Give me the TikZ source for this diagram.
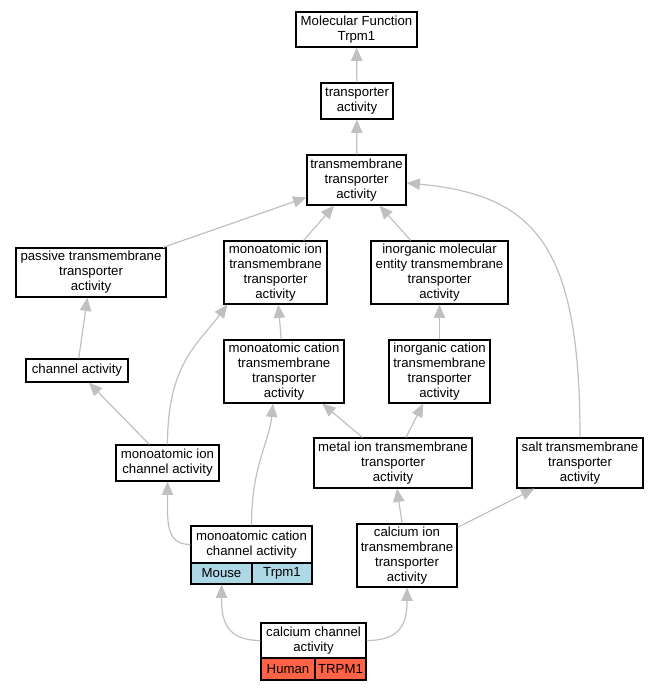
\documentclass[tikz,border=0pt]{standalone}
\usepackage{fontspec}
\setmainfont{Liberation Sans}
\usetikzlibrary{arrows.meta}
\definecolor{edgegray}{RGB}{192,192,192}
\definecolor{mouseblue}{RGB}{173,216,230}
\definecolor{humanred}{RGB}{255,99,71}
\newcommand{\termfont}{\fontsize{9.9pt}{11.25pt}\selectfont}

\begin{document}
\begin{tikzpicture}[x=.75pt,y=-.75pt,
 term/.style={draw,line width=.9pt,fill=white,align=center,inner sep=0pt,font=\termfont},
 sz/.style 2 args={minimum width=#1*.75pt,minimum height=#2*.75pt},
 isa/.style={edgegray,line width=.9pt,-{Triangle[length=10pt,width=8.5pt]}}]
\useasboundingbox(0,0)rectangle(659,691);
\node[term,sz={121}{35}](mf)at(356.5,29.5){Molecular Function\\Trpm1};
\node[term,sz={72}{36}](ta)at(357,101){transporter\\activity};
\node[term,sz={99}{50}](tta)at(356.5,180){transmembrane\\transporter\\activity};
\node[term,sz={150}{49}](ptta)at(91,272.5){passive transmembrane\\transporter\\activity};
\node[term,sz={103}{63}](mitta)at(275.5,272.5){monoatomic ion\\transmembrane\\transporter\\activity};
\node[term,sz={137}{63}](imtta)at(439.5,272.5){inorganic molecular\\entity transmembrane\\transporter\\activity};
\node[term,sz={102}{23}](chan)at(77,370.5){channel activity};
\node[term,sz={120}{63}](mctta)at(284,371.5){monoatomic cation\\transmembrane\\transporter\\activity};
\node[term,sz={101}{63}](ictta)at(439.5,371.5){inorganic cation\\transmembrane\\transporter\\activity};
\node[term,sz={103}{36}](mic)at(167.5,463){monoatomic ion\\channel activity};
\node[term,sz={158}{50}](metal)at(393,463){metal ion transmembrane\\transporter\\activity};
\node[term,sz={126}{50}](salt)at(580,463){salt transmembrane\\transporter\\activity};
\node[term,sz={100}{63}](catta)at(407,555.5){calcium ion\\transmembrane\\transporter\\activity};
\node[term,sz={121}{37}](mcc)at(251.5,544.5){monoatomic cation\\channel activity};
\node[term,fill=mouseblue,sz={61}{21}](mccsp)at(221.5,573.5){Mouse};
\node[term,fill=mouseblue,sz={60}{21}](mccgene)at(282,573.5){Trpm1};
\node[term,sz={105}{35}](cc)at(313.5,640.5){calcium channel\\activity};
\node[term,fill=humanred,sz={54}{22}](ccsp)at(288,669){Human};
\node[term,fill=humanred,sz={51}{22}](ccgene)at(340.5,669){TRPM1};
\draw[isa](ta)--(mf);
\draw[isa](tta)--(ta);
\draw[isa](ptta)--(tta);
\draw[isa](mitta)--(tta);
\draw[isa](imtta)--(tta);
\draw[isa](salt.north)..controls+(0,-190)and+(130,12)..([yshift=-2.25pt]tta.east);
\draw[isa](chan)--(ptta);
\draw[isa](mctta)--(mitta);
\draw[isa](ictta)--(imtta);
\draw[isa](mic)--(chan);
\draw[isa](mic.north)..controls+(0,-80)and+(-30,40)..([xshift=3pt]mitta.south west);
\draw[isa](metal)--(mctta);
\draw[isa](metal)--(ictta);
\draw[isa](catta)--(metal);
\draw[isa]([yshift=-3pt]catta.north east)--([xshift=13.5pt]salt.south west);
\draw[isa](mcc.west)..controls+(-25,0)and+(0,40)..(mic.south);
\draw[isa](mcc.north)..controls+(0,-60)and+(-4,40)..([xshift=-8.25pt]mctta.south);
\draw[isa](cc.west)..controls+(-35,0)and+(0,35)..(mccsp.south);
\draw[isa](cc.east)..controls+(35,0)and+(0,35)..(catta.south);
\end{tikzpicture}
\end{document}
